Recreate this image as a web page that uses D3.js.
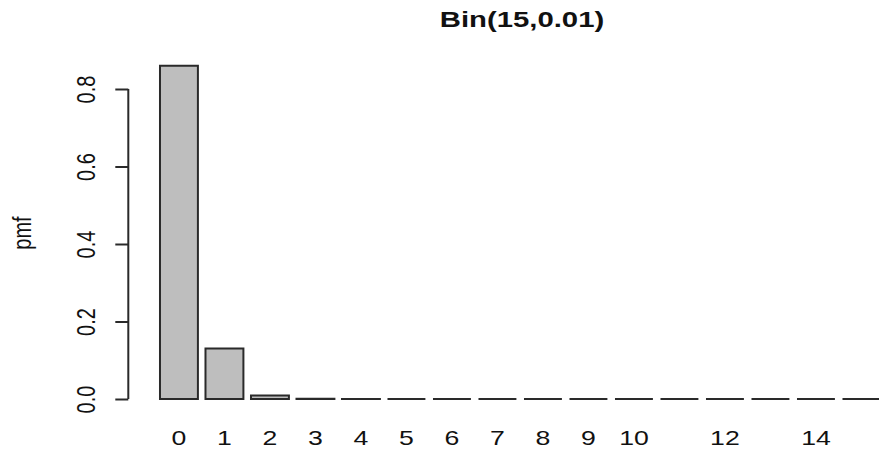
<!DOCTYPE html>
<html>
<head>
<meta charset="utf-8">
<script src="https://cdn.jsdelivr.net/npm/d3@7"></script>
<style>
  body { margin: 0; background: #fff; }
  text { font-family: "Liberation Sans", Arial, sans-serif; fill: #111; }
</style>
</head>
<body>
<div id="chart"></div>
<script>
// Data
var outcomes = [0, 1, 2, 3, 4, 5, 6, 7, 8, 9, 10, 11, 12, 13, 14, 15];
var pmf = [0.8601, 0.1303, 0.0092, 0.0004, 0.00001, 0, 0, 0, 0, 0, 0, 0, 0, 0, 0, 0];
var xLabels = [0, 1, 2, 3, 4, 5, 6, 7, 8, 9, 10, 12, 14];
var yTicks = [0, 0.2, 0.4, 0.6, 0.8];
var title = "Bin(15,0.01)";
var yTitle = "pmf";

// The original picture is stretched sideways, so draw in a narrower
// logical space and let the svg stretch it out
var canvas = {
	width: 879,
	height: 452,
	stretch: 1.332
};
var logicalWidth = canvas.width / canvas.stretch;
function lx(px) { return px / canvas.stretch; }

// Line style shared by bars and axis
var outline = {
	color: "#2a2a2a",
	width: 2
};

var svg = d3.select("#chart")
	.append("svg")
	.attr("width", canvas.width)
	.attr("height", canvas.height)
	.attr("viewBox", "0 0 " + logicalWidth + " " + canvas.height)
	.attr("preserveAspectRatio", "none");

// Scales
var x = d3.scaleBand()
	.domain(outcomes)
	.range([lx(156.2), lx(884.2)])
	.paddingInner(1 / 6)
	.paddingOuter(1 / 12);

var y = d3.scaleLinear()
	.domain([0, 0.8])
	.range([399, 89]);

// Bars, as paths so that zero-height bars still show as a line
svg.append("g")
	.selectAll("path")
	.data(outcomes)
	.enter()
	.append("path")
	.attr("d", function(d, i) {
		var p = d3.path();
		var top = y(pmf[i]);
		p.rect(x(d), top, x.bandwidth(), y(0) - top);
		return p.toString();
	})
	.attr("fill", "#bebebe")
	.attr("stroke", outline.color)
	.attr("stroke-width", outline.width)
	.attr("vector-effect", "non-scaling-stroke");

// Y axis
var axisX = lx(128.3);
var yAxis = svg.append("g")
	.attr("transform", "translate(" + axisX + ",0)")
	.call(d3.axisLeft(y)
		.tickValues(yTicks)
		.tickSize(lx(13))
		.tickFormat(d3.format(".1f")));
yAxis.select(".domain")
	.attr("stroke", outline.color)
	.attr("stroke-width", outline.width)
	.attr("vector-effect", "non-scaling-stroke")
	.attr("d", "M0," + y(0) + "V" + y(0.8));
yAxis.selectAll(".tick line")
	.attr("stroke", outline.color)
	.attr("stroke-width", outline.width)
	.attr("vector-effect", "non-scaling-stroke");
yAxis.selectAll(".tick text")
	.attr("x", null)
	.attr("dy", null)
	.attr("font-size", 20)
	.attr("text-anchor", "middle")
	.attr("transform", "translate(" + (lx(95) - axisX) + ",0) rotate(-90)");
yAxis.attr("font-family", null);

// X labels (R drops the ones that would overlap)
svg.append("g")
	.selectAll("text")
	.data(xLabels)
	.enter()
	.append("text")
	.attr("x", function(d) { return x(d) + x.bandwidth() / 2; })
	.attr("y", 445)
	.attr("text-anchor", "middle")
	.attr("font-size", 20)
	.text(function(d) { return d; });

// Y title
svg.append("text")
	.attr("transform", "translate(" + lx(31) + ",233) rotate(-90)")
	.attr("text-anchor", "middle")
	.attr("font-size", 20)
	.text(yTitle);

// Main title
svg.append("text")
	.attr("x", lx(522))
	.attr("y", 27)
	.attr("text-anchor", "middle")
	.attr("font-size", 22)
	.attr("font-weight", "bold")
	.text(title);
</script>
</body>
</html>
